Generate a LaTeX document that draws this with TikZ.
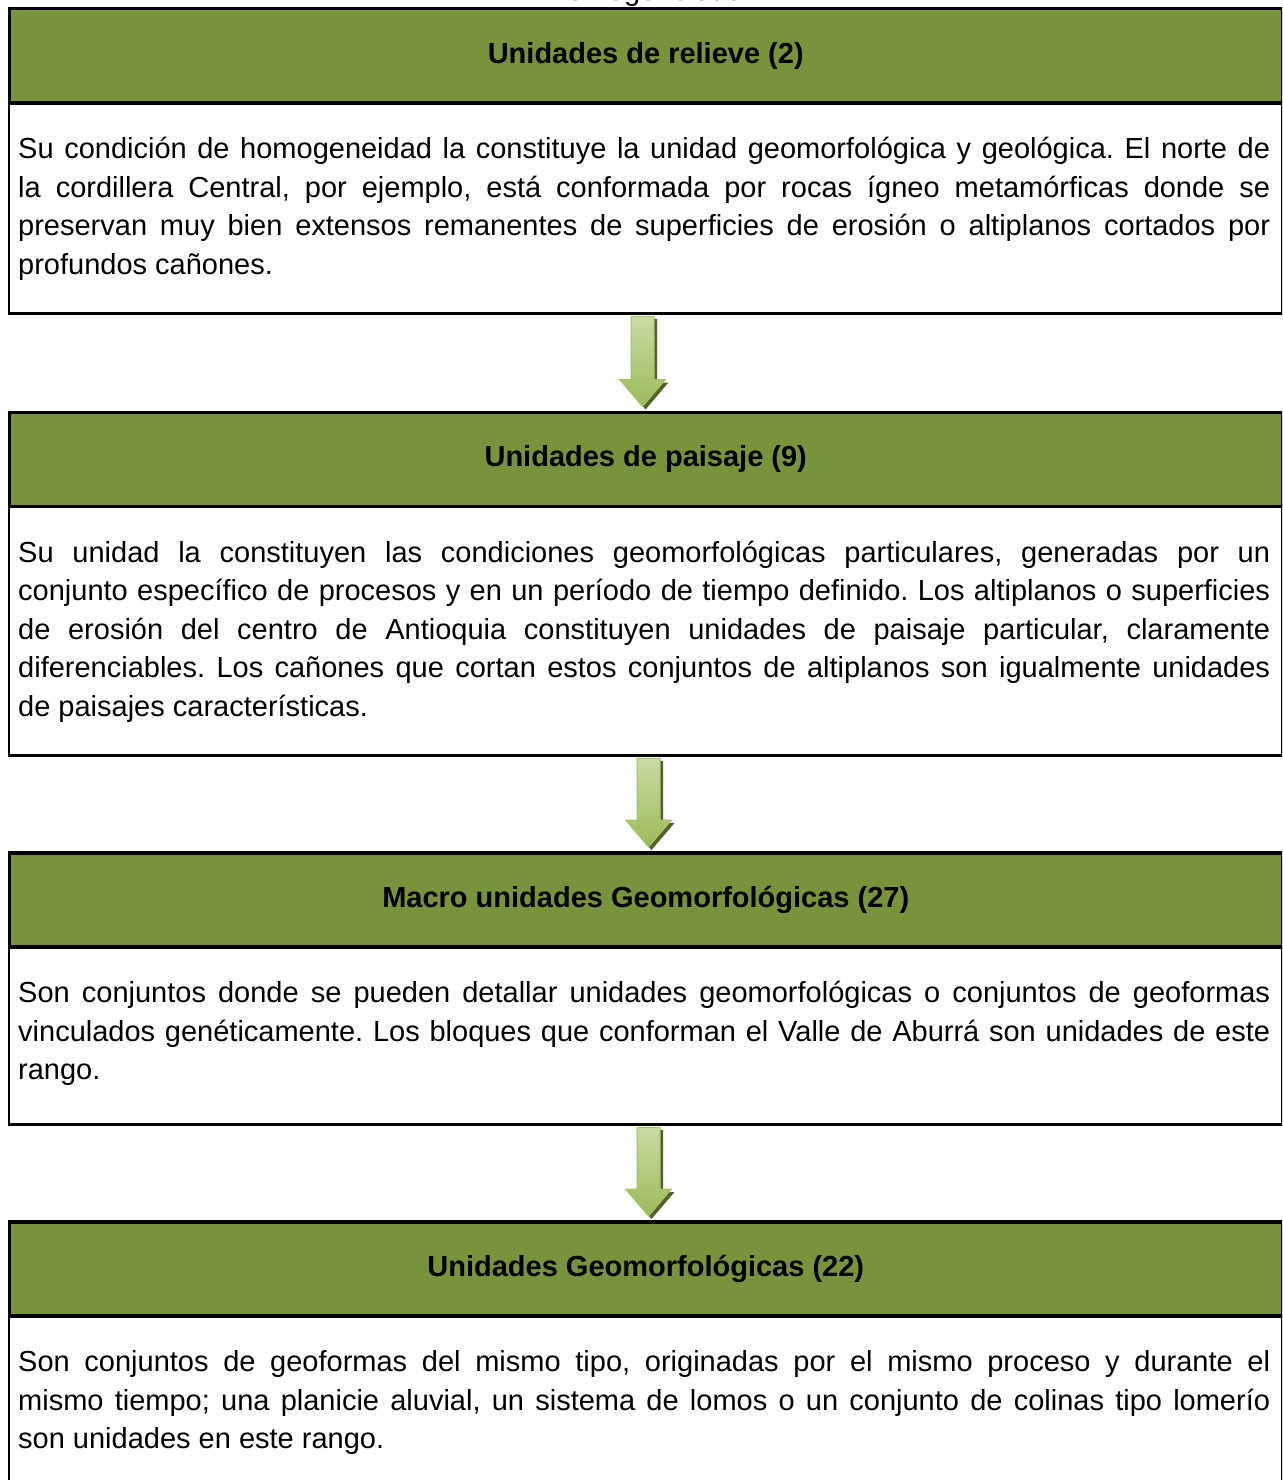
\documentclass[tikz,border=0pt]{standalone}
\usepackage{fontspec}
\setmainfont{Liberation Sans}
\usetikzlibrary{calc}
\definecolor{hdrgreen}{HTML}{77933C}
\definecolor{arrlight}{HTML}{C9DBA5}
\definecolor{arrmid}{HTML}{9BBB59}
\definecolor{arredge}{HTML}{A6C36A}
\definecolor{arrshade}{HTML}{4F6228}
\newcommand\grarrow[3]{% #1 upper body node, #2 lower header node, #3 x centre (px)
  \fill[arrshade] let \p1=(#1.south), \p2=(#2.north) in
    ({#3pt-8.5pt},{\y1-4pt}) -- ({#3pt-8.5pt},{\y2+31pt-3pt}) -- ({#3pt-20pt},{\y2+31pt-3pt})
    -- ({#3pt+3pt},{\y2+4pt-3pt}) -- ({#3pt+26pt},{\y2+31pt-3pt}) -- ({#3pt+14.5pt},{\y2+31pt-3pt})
    -- ({#3pt+14.5pt},{\y1-4pt}) -- cycle;
  \shade[top color=arrlight, bottom color=arrmid, draw=arredge, line width=1pt] let \p1=(#1.south), \p2=(#2.north) in
    ({#3pt-11.5pt},{\y1-1.5pt}) -- ({#3pt-11.5pt},{\y2+31pt}) -- ({#3pt-23pt},{\y2+31pt})
    -- ({#3pt},{\y2+4pt}) -- ({#3pt+23pt},{\y2+31pt}) -- ({#3pt+11.5pt},{\y2+31pt})
    -- ({#3pt+11.5pt},{\y1-1.5pt}) -- cycle;
}
\tikzset{
  hdr/.style={draw=black, line width=3.5pt, fill=hdrgreen, minimum width=1273pt,
    minimum height=94pt, inner sep=0pt, anchor=north west,
    font=\fontsize{29}{38.5}\selectfont\bfseries},
  bodybox/.style={draw=black, line width=2.8pt, minimum width=1273pt, inner sep=0pt,
    anchor=north west},
  bodytxt/.style={text width=1252pt, align=justify, inner sep=0pt, anchor=base west,
    font=\fontsize{29}{38.5}\selectfont\frenchspacing},
}
\begin{document}
\begin{tikzpicture}[x=1pt,y=-1pt]
\useasboundingbox[fill=white] (0,0) rectangle (1282,1480);
\clip (0,0) rectangle (1282,1480);
\node[anchor=base, inner sep=0pt, font=\fontsize{29}{38.5}\selectfont] (title) at (645,1) {Homogeneidad};
% box 1
\node[bodybox, minimum height=211pt] (b1) at (7.5,101) {};
\node[hdr] (h1) at (7.5,7) {Unidades de relieve (2)};
\node[bodytxt] (t1) at (18,158.5) {Su condición de homogeneidad la constituye la unidad geomorfológica y geológica. El norte de\linebreak
la cordillera Central, por ejemplo, está conformada por rocas ígneo metamórficas donde se\linebreak
preservan muy bien extensos remanentes de superficies de erosión o altiplanos cortados por\linebreak
profundos cañones.};
% box 2
\node[bodybox, minimum height=249.5pt] (b2) at (7.5,504.5) {};
\node[hdr] (h2) at (7.5,410.5) {Unidades de paisaje (9)};
\node[bodytxt] (t2) at (18,562) {Su unidad la constituyen las condiciones geomorfológicas particulares, generadas por un\linebreak
conjunto específico de procesos y en un período de tiempo definido. Los altiplanos o superficies\linebreak
de erosión del centro de Antioquia constituyen unidades de paisaje particular, claramente\linebreak
diferenciables. Los cañones que cortan estos conjuntos de altiplanos son igualmente unidades\linebreak
de paisajes características.};
% box 3
\node[bodybox, minimum height=178pt] (b3) at (7.5,945) {};
\node[hdr] (h3) at (7.5,851) {Macro unidades Geomorfológicas (27)};
\node[bodytxt] (t3) at (18,1002.5) {Son conjuntos donde se pueden detallar unidades geomorfológicas o conjuntos de geoformas\linebreak
vinculados genéticamente. Los bloques que conforman el Valle de Aburrá son unidades de este\linebreak
rango.};
% box 4
\node[bodybox, minimum height=200pt] (b4) at (7.5,1314) {};
\node[hdr] (h4) at (7.5,1220) {Unidades Geomorfológicas (22)};
\node[bodytxt] (t4) at (18,1371.5) {Son conjuntos de geoformas del mismo tipo, originadas por el mismo proceso y durante el\linebreak
mismo tiempo; una planicie aluvial, un sistema de lomos o un conjunto de colinas tipo lomerío\linebreak
son unidades en este rango.};
% arrows
\grarrow{b1}{h2}{642.5}
\grarrow{b2}{h3}{648.5}
\grarrow{b3}{h4}{648.5}
\end{tikzpicture}
\end{document}
